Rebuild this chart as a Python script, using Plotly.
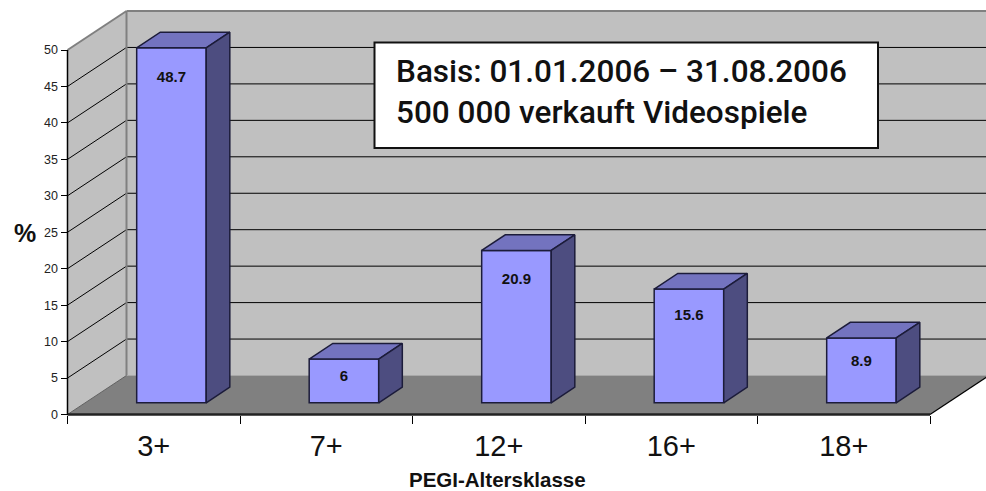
import plotly.graph_objects as go

categories = ["3+", "7+", "12+", "16+", "18+"]
values = [48.7, 6, 20.9, 15.6, 8.9]
value_ticks = [0, 5, 10, 15, 20, 25, 30, 35, 40, 45, 50]

W, H = 986, 491
X0_PX, Y0_PX = 67.5, 414.5      # front-left corner of the floor
CAT_PX = 172.5                  # pixels per category
VAL_PX = 7.29                   # pixels per percent point
DEPTH_DX = 59 / CAT_PX          # oblique projection of the full depth
DEPTH_DY = 39 / VAL_PX
BAR_WIDTH = 0.403
BAR_D0, BAR_D1 = 0.30, 0.70     # depth span of the bars
LABEL_DROP_PX = [30, 18, 30, 27, 24]

n = len(categories)
xmax = n
ymax = value_ticks[-1]


def proj(c, v, d):
    return c + d * DEPTH_DX, v + d * DEPTH_DY


def poly(points, fill, line=None, width=0):
    path = "M" + " L".join(f"{x},{y}" for x, y in points) + " Z"
    return dict(type="path", path=path, xref="x", yref="y", fillcolor=fill, layer="below",
                line=dict(color=line or fill, width=width))


def seg(a, b, color="black", width=1, dash="solid", layer="below"):
    return dict(type="line", xref="x", yref="y", x0=a[0], y0=a[1], x1=b[0], y1=b[1], layer=layer,
                line=dict(color=color, width=width, dash=dash))


shapes = [
    poly([proj(0, 0, 1), proj(xmax, 0, 1), proj(xmax, ymax, 1), proj(0, ymax, 1)], "#C0C0C0"),
    poly([proj(0, 0, 0), proj(0, 0, 1), proj(0, ymax, 1), proj(0, ymax, 0)], "#C0C0C0"),
    poly([proj(0, 0, 0), proj(xmax, 0, 0), proj(xmax, 0, 1), proj(0, 0, 1)], "#808080"),
]
for t in value_ticks[1:]:
    color = "#808080" if t == ymax else "black"
    w = 2 if t == ymax else 1
    shapes.append(seg(proj(0, t, 0), proj(0, t, 1), color, w))
    shapes.append(seg(proj(0, t, 1), proj(xmax, t, 1), color, w))
shapes += [
    seg(proj(0, 0, 1), proj(0, ymax, 1), "#808080", 2),
    seg(proj(0, 0, 1), proj(xmax, 0, 1), "#A8A8A8", 1),
    seg(proj(0, 0, 0), proj(0, 0, 1), "#606060", 1),
    seg(proj(0, 0, 0), proj(0, ymax, 0), "black", 1.5),
    seg(proj(0, 0, 0), proj(xmax, 0, 0), "#222222", 2.5),
    seg(proj(xmax, 0, 0), proj(xmax, 0, 1), "black", 1.2),
]
# white text box
shapes.append(dict(type="rect", xref="paper", yref="paper", layer="above",
                   x0=374.5 / W, x1=878 / W, y0=1 - 148 / H, y1=1 - 42.5 / H,
                   fillcolor="white", line=dict(color="#111111", width=2)))

fig = go.Figure()
centers = [i + 0.5 for i in range(n)]
sx, sy = proj(0, 0, BAR_D0)
fig.add_trace(go.Bar(
    x=[c + sx for c in centers], y=values, base=[sy] * n, width=BAR_WIDTH,
    marker=dict(color="#9999FF", line=dict(color="#1C1C3A", width=1.5)),
    showlegend=False, hoverinfo="skip"))

for c, v in zip(centers, values):
    l, r = c - BAR_WIDTH / 2, c + BAR_WIDTH / 2
    top = [proj(l, v, BAR_D0), proj(r, v, BAR_D0), proj(r, v, BAR_D1), proj(l, v, BAR_D1), proj(l, v, BAR_D0)]
    side = [proj(r, 0, BAR_D0), proj(r, 0, BAR_D1), proj(r, v, BAR_D1), proj(r, v, BAR_D0), proj(r, 0, BAR_D0)]
    for pts, col in ((top, "#7373BF"), (side, "#4D4D80")):
        fig.add_trace(go.Scatter(x=[p[0] for p in pts], y=[p[1] for p in pts], mode="lines", fill="toself",
                                 fillcolor=col, line=dict(color="#1C1C3A", width=1.5),
                                 showlegend=False, hoverinfo="skip"))

fig.add_trace(go.Scatter(
    x=[c + sx for c in centers],
    y=[v + sy - d / VAL_PX for v, d in zip(values, LABEL_DROP_PX)],
    mode="text", text=[f"{v:g}" for v in values],
    textfont=dict(family="Liberation Sans", size=15, color="#111111", weight="bold"),
    showlegend=False, hoverinfo="skip"))

fig.update_layout(
    width=W, height=H, margin=dict(l=0, r=0, t=0, b=0), autosize=False,
    paper_bgcolor="white", plot_bgcolor="white", shapes=shapes,
    xaxis=dict(
        domain=[0, 1], range=[-X0_PX / CAT_PX, (W - X0_PX) / CAT_PX], anchor="free", position=(H - Y0_PX) / H,
        tickmode="array", tickvals=centers, ticktext=categories, ticks="", showgrid=False, zeroline=False,
        showline=False, ticklabelstandoff=11,
        tickfont=dict(family="Liberation Sans", size=29, color="#111111"),
        minor=dict(tickmode="array", tickvals=list(range(n + 1)), ticks="outside", ticklen=8, tickwidth=1,
                   tickcolor="black", showgrid=False),
    ),
    yaxis=dict(
        domain=[0, 1], range=[-(H - Y0_PX) / VAL_PX, Y0_PX / VAL_PX], anchor="free", position=X0_PX / W,
        tickmode="array", tickvals=value_ticks, ticks="outside", ticklen=7, tickwidth=1, tickcolor="black",
        showgrid=False, zeroline=False, showline=False,
        tickfont=dict(family="Liberation Sans", size=12.5, color="#222222"),
    ),
    annotations=[
        dict(xref="paper", yref="paper", x=394 / W, y=1 - 92 / H, xanchor="left", yanchor="middle", align="left",
             showarrow=False, text="Basis: 01.01.2006 – 31.08.2006<br>500 000 verkauft Videospiele",
             font=dict(family="Roboto", size=31.5, color="#111111", weight=500)),
        dict(xref="paper", yref="paper", x=498 / W, y=1 - 479 / H, xanchor="center", yanchor="middle",
             showarrow=False, text="<b>PEGI-Altersklasse</b>", borderpad=0,
             font=dict(family="Liberation Sans", size=20.5, color="#111111")),
        dict(xref="paper", yref="paper", x=25 / W, y=1 - 233 / H, xanchor="center", yanchor="middle",
             showarrow=False, text="<b>%</b>",
             font=dict(family="Liberation Sans", size=25, color="#111111")),
    ],
)
fig.write_html("out.html", config={"displayModeBar": False},
               post_script="document.body.style.margin='0';document.documentElement.style.overflow='hidden';")
